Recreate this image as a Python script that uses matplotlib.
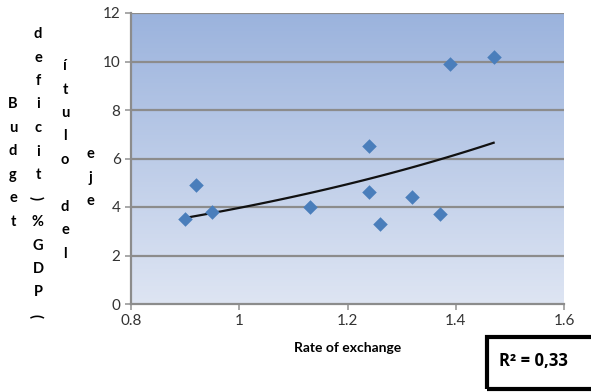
import numpy as np
import matplotlib.pyplot as plt
from matplotlib.colors import LinearSegmentedColormap
from matplotlib.patches import Rectangle

# data
rate = [0.90, 0.92, 0.95, 1.13, 1.24, 1.24, 1.26, 1.32, 1.37, 1.39, 1.47]
deficit = [3.5, 4.9, 3.8, 4.0, 6.5, 4.6, 3.3, 4.4, 3.7, 9.9, 10.2]
x_ticks = [0.8, 1.0, 1.2, 1.4, 1.6]
x_tick_labels = ['0.8', '1', '1.2', '1.4', '1.6']
y_ticks = [0, 2, 4, 6, 8, 10, 12]
r2_text = 'R² = 0,33'

# vertical-stacked y label columns as they appear in the reference
label_cols = [
    list('Budget'),
    list('deficit') + ['('] + list('%GDP') + [')'],
    list('ítulo') + [''] + list('del'),
    list('eje'),
]

plt.rcParams['font.family'] = ['Lato', 'DejaVu Sans']

fig = plt.figure(figsize=(5.91, 3.92), dpi=100)
ax = fig.add_axes([131 / 591, 1 - 304 / 392, 433 / 591, 291 / 392])

# gradient background
cmap = LinearSegmentedColormap.from_list('bg', ['#dee5f3', '#9bb3dd'])
grad = np.linspace(0, 1, 256).reshape(-1, 1)
ax.imshow(grad, cmap=cmap, aspect='auto', origin='lower',
          extent=[0.8, 1.6, 0, 12], zorder=0)

ax.set_xlim(0.8, 1.6)
ax.set_ylim(0, 12)
ax.set_xticks(x_ticks)
ax.set_xticklabels(x_tick_labels)
ax.set_yticks(y_ticks)
ax.tick_params(labelsize=11, colors='#333333', length=4, width=1.2)
ax.tick_params(axis='both', color='#999999')
for yv in y_ticks[1:]:
    ax.axhline(yv, color='#8c8c8c', lw=1.6, zorder=1)
for side in ['top', 'right']:
    ax.spines[side].set_visible(False)
for side in ['left', 'bottom']:
    ax.spines[side].set_color('#8c8c8c')
    ax.spines[side].set_linewidth(1.6)

# exponential trend line
b, a = np.polyfit(rate, np.log(deficit), 1)
xs = np.linspace(min(rate), max(rate), 100)
ax.plot(xs, np.exp(a + b * xs), color='#111111', lw=1.6, zorder=3)

ax.scatter(rate, deficit, marker='D', s=55, color='#4a7ebb', zorder=4,
           linewidths=0)

ax.set_xlabel('Rate of exchange', fontsize=10, fontweight='bold', labelpad=10)

# stacked y label letters
col_x = [13, 38, 65, 90]
col_y0 = [104, 34, 66, 154]
step = 23.5
for cx, y0, letters in zip(col_x, col_y0, label_cols):
    for i, ch in enumerate(letters):
        rot = 90 if ch in '()' else 0
        fig.text(cx / 591, 1 - (y0 + i * step) / 392, ch, ha='center',
                 va='center', fontsize=10.5, fontweight='bold', rotation=rot)

# R^2 box
fig.patches.append(Rectangle((487 / 591, 1 - 389 / 392), 110 / 591, 52 / 392,
                             transform=fig.transFigure, fill=False,
                             edgecolor='black', lw=3))
fig.text(499 / 591, 1 - 361 / 392, r2_text, fontsize=12, fontweight='bold',
         va='center', ha='left', family=['Open Sans', 'DejaVu Sans'])

fig.savefig('out.png', dpi=100)
